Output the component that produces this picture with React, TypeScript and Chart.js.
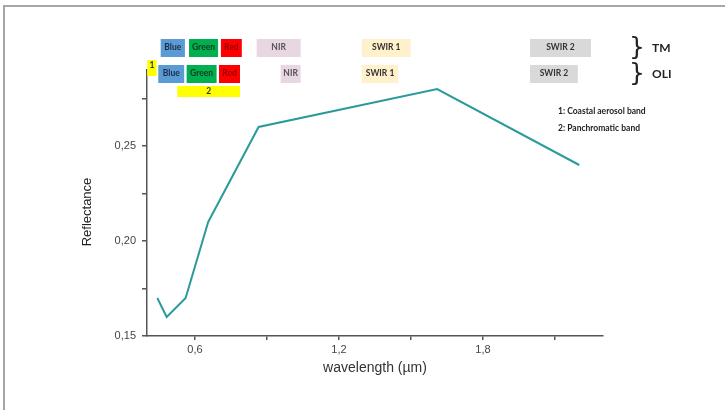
import React, { useEffect, useRef } from 'react';
import { Chart, registerables } from 'chart.js';

Chart.register(...registerables);

// Spectral curve (Landsat 8 OLI band centres)
const wavelengths = [0.443, 0.482, 0.561, 0.655, 0.865, 1.609, 2.201];
const reflectance = [0.17, 0.16, 0.17, 0.21, 0.26, 0.28, 0.24];

// Axis ticks
const xTicks = [0.6, 0.9, 1.2, 1.5, 1.8, 2.1];
const xLabeled = [0.6, 1.2, 1.8];
const yTicks = [0.15, 0.175, 0.2, 0.225, 0.25, 0.275];
const yLabeled = [0.15, 0.2, 0.25];
const yTitle = 'Reflectance';

// Sensor bands (wavelength ranges in µm)
const tmBandNames = ['Blue', 'Green', 'Red', 'NIR', 'SWIR 1', 'SWIR 2'];
const tmBandStart = [0.457, 0.575, 0.708, 0.857, 1.295, 1.996];
const tmBandEnd = [0.558, 0.696, 0.795, 1.04, 1.499, 2.25];
const oliBandNames = ['Blue', 'Green', 'Red', 'NIR', 'SWIR 1', 'SWIR 2'];
const oliBandStart = [0.447, 0.565, 0.7, 0.957, 1.295, 1.996];
const oliBandEnd = [0.555, 0.69, 0.7875, 1.04, 1.447, 2.195];
const coastalBand = [0.401, 0.44];
const panBand = [0.526, 0.7875];
const sensorNames = ['TM', 'OLI'];
const notes = ['1: Coastal aerosol band', '2: Panchromatic band'];

const bandFill: Record<string, string> = {
  Blue: '#5b9bd5',
  Green: '#00b050',
  Red: '#ff0000',
  NIR: '#e8d6e2',
  'SWIR 1': '#fff1cc',
  'SWIR 2': '#d9d9d9',
};
const bandText: Record<string, string> = {
  Blue: '#1c2a44',
  Green: '#123a1e',
  Red: '#900000',
  NIR: '#555555',
  'SWIR 1': '#333333',
  'SWIR 2': '#333333',
};

const near = (a: number, b: number) => Math.abs(a - b) < 1e-6;
const fmt = (v: number, d: number) => v.toFixed(d).replace('.', ',');

const bandsPlugin = {
  id: 'bands',
  afterDraw(chart: any) {
    const { ctx, chartArea, scales } = chart;
    const x = scales.x;
    const top = chartArea.top;
    ctx.save();
    // frame
    ctx.strokeStyle = '#a6a6a6';
    ctx.lineWidth = 2;
    ctx.beginPath();
    ctx.moveTo(4, 410);
    ctx.lineTo(4, 6);
    ctx.lineTo(725, 6);
    ctx.stroke();

    // y title
    ctx.save();
    ctx.translate(87, 212);
    ctx.rotate(-Math.PI / 2);
    ctx.fillStyle = '#222222';
    ctx.font = '13px "Liberation Sans", Arial, sans-serif';
    ctx.textAlign = 'center';
    ctx.textBaseline = 'middle';
    ctx.fillText(yTitle, 0, 0);
    ctx.restore();

    const box = (s: number, e: number, y0: number, h: number, fill: string) => {
      const px0 = x.getPixelForValue(s);
      const px1 = x.getPixelForValue(e);
      ctx.fillStyle = fill;
      ctx.fillRect(px0, y0, px1 - px0, h);
      return [px0, px1];
    };
    const label = (t: string, cx: number, cy: number, color: string, size = 8.5) => {
      ctx.fillStyle = color;
      ctx.font = `bold ${size}px Lato, "Open Sans", sans-serif`;
      ctx.textAlign = 'center';
      ctx.textBaseline = 'middle';
      ctx.fillText(t, cx, cy);
    };

    const rows = [
      { names: tmBandNames, s: tmBandStart, e: tmBandEnd, y: top - 31 },
      { names: oliBandNames, s: oliBandStart, e: oliBandEnd, y: top - 5 },
    ];
    const h = 18;
    {
      const [a, b] = box(coastalBand[0], coastalBand[1], top - 10, 16, '#ffff00');
      label('1', (a + b) / 2, top - 5, '#333333');
    }
    {
      const [a, b] = box(panBand[0], panBand[1], top + 16, 11, '#ffff00');
      label('2', (a + b) / 2, top + 21.5, '#333333');
    }
    rows.forEach((r) => {
      r.names.forEach((n, i) => {
        const [a, b] = box(r.s[i], r.e[i], r.y, h, bandFill[n]);
        label(n, (a + b) / 2, r.y + h / 2 - 1, bandText[n]);
      });
    });

    rows.forEach((r, i) => {
      ctx.fillStyle = '#222222';
      ctx.font = '25px "DejaVu Sans", sans-serif';
      ctx.textAlign = 'center';
      ctx.textBaseline = 'middle';
      ctx.fillText('}', 637, r.y + h / 2);
      ctx.font = 'bold 12px Lato, "Open Sans", sans-serif';
      ctx.textAlign = 'left';
      ctx.fillText(sensorNames[i], 652, r.y + h / 2);
    });

    ctx.fillStyle = '#222222';
    ctx.font = 'bold 8.5px Lato, "Open Sans", sans-serif';
    ctx.textAlign = 'left';
    ctx.textBaseline = 'middle';
    notes.forEach((t, i) => ctx.fillText(t, 558, top + 41 + i * 17));
    ctx.restore();
  },
};

export default function App() {
  const ref = useRef<HTMLCanvasElement | null>(null);
  useEffect(() => {
    document.body.style.margin = '0';
    if (!ref.current) return;
    const chart = new Chart(ref.current, {
      type: 'line',
      data: {
        datasets: [
          {
            data: wavelengths.map((w, i) => ({ x: w, y: reflectance[i] })),
            borderColor: '#2b9a9b',
            borderWidth: 2,
            pointRadius: 0,
            tension: 0,
            fill: false,
          },
        ],
      },
      options: {
        animation: false,
        responsive: true,
        maintainAspectRatio: false,
        layout: { padding: { left: 0, right: 122, top: 70, bottom: 0 } },
        plugins: { legend: { display: false }, tooltip: { enabled: false } },
        scales: {
          x: {
            type: 'linear',
            min: 0.4,
            max: 2.3,
            afterBuildTicks: (s: any) => {
              s.ticks = xTicks.map((v) => ({ value: v }));
            },
            afterFit: (s: any) => {
              s.height = 74;
            },
            border: { display: true, color: '#555555', width: 1.5 },
            grid: {
              drawOnChartArea: false,
              drawTicks: true,
              tickLength: 4,
              color: '#555555',
              lineWidth: 1.5,
            },
            ticks: {
              autoSkip: false,
              maxRotation: 0,
              padding: 3,
              color: '#444444',
              font: { family: '"Liberation Sans", Arial, sans-serif', size: 11 },
              callback: (v: any) => (xLabeled.some((m) => near(m, Number(v))) ? fmt(Number(v), 1) : ''),
            },
            title: {
              display: true,
              text: 'wavelength (µm)',
              color: '#333333',
              font: { family: '"Liberation Sans", Arial, sans-serif', size: 14 },
              padding: { top: 0, bottom: 33 },
            },
          },
          y: {
            type: 'linear',
            min: 0.15,
            max: 0.29,
            afterBuildTicks: (s: any) => {
              s.ticks = yTicks.map((v) => ({ value: v }));
            },
            afterFit: (s: any) => {
              s.width = 147;
            },
            border: { display: true, color: '#555555', width: 1.5 },
            grid: {
              drawOnChartArea: false,
              drawTicks: true,
              tickLength: 5,
              color: '#555555',
              lineWidth: 1.5,
            },
            ticks: {
              autoSkip: false,
              padding: 6,
              color: '#444444',
              font: { family: '"Liberation Sans", Arial, sans-serif', size: 11 },
              callback: (v: any) => (yLabeled.some((m) => near(m, Number(v))) ? fmt(Number(v), 2) : ''),
            },
            title: { display: false },
          },
        },
      },
      plugins: [bandsPlugin],
    } as any);
    return () => chart.destroy();
  }, []);
  return (
    <div style={{ position: 'absolute', left: 0, top: 0, width: 725, height: 410, background: '#ffffff' }}>
      <canvas ref={ref} />
    </div>
  );
}
